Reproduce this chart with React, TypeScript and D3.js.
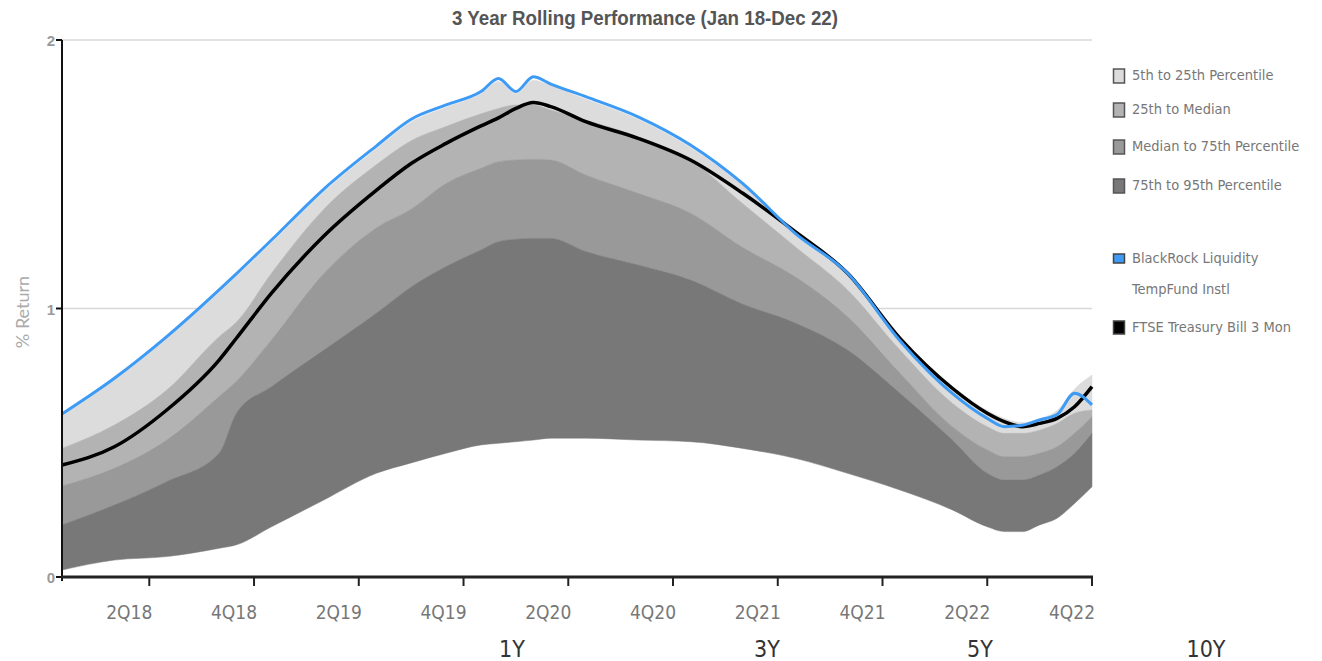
import React from "react";
import * as d3 from "d3";

// ---------- DATA ----------
const sampleMonths = [
  "2018-01", "2018-04", "2018-07", "2018-10", "2018-11", "2019-01", "2019-04", "2019-07",
  "2019-09", "2019-11", "2020-01", "2020-02", "2020-03", "2020-04", "2020-05", "2020-07",
  "2020-10", "2021-01", "2021-04", "2021-07", "2021-10", "2022-01", "2022-04", "2022-06",
  "2022-07", "2022-08", "2022-09", "2022-10", "2022-11", "2022-12",
];
const p5 = [0.6, 0.735, 0.89, 1.06, 1.12, 1.245, 1.435, 1.595, 1.695, 1.75, 1.8, 1.845, 1.8, 1.85, 1.83, 1.78, 1.705, 1.6, 1.46, 1.29, 1.135, 0.895, 0.71, 0.62, 0.59, 0.575, 0.59, 0.62, 0.7, 0.752];
const p25 = [0.479, 0.566, 0.696, 0.895, 0.95, 1.131, 1.37, 1.535, 1.625, 1.678, 1.725, 1.745, 1.758, 1.758, 1.739, 1.702, 1.64, 1.553, 1.39, 1.23, 1.069, 0.845, 0.647, 0.56, 0.535, 0.535, 0.547, 0.572, 0.61, 0.622];
const median = [0.339, 0.405, 0.51, 0.672, 0.73, 0.883, 1.13, 1.3, 1.37, 1.466, 1.522, 1.547, 1.553, 1.556, 1.553, 1.497, 1.429, 1.355, 1.227, 1.118, 0.969, 0.759, 0.56, 0.473, 0.448, 0.448, 0.461, 0.485, 0.535, 0.597];
const p75 = [0.194, 0.268, 0.355, 0.461, 0.611, 0.709, 0.845, 0.982, 1.08, 1.156, 1.218, 1.249, 1.258, 1.261, 1.261, 1.212, 1.162, 1.106, 1.016, 0.946, 0.845, 0.684, 0.51, 0.386, 0.361, 0.361, 0.38, 0.411, 0.461, 0.535];
const p95 = [0.026, 0.063, 0.076, 0.107, 0.12, 0.187, 0.287, 0.386, 0.425, 0.461, 0.492, 0.498, 0.504, 0.51, 0.517, 0.517, 0.51, 0.504, 0.479, 0.442, 0.386, 0.324, 0.25, 0.187, 0.169, 0.169, 0.194, 0.219, 0.274, 0.336];
const fund = [0.607, 0.74, 0.895, 1.069, 1.13, 1.255, 1.445, 1.605, 1.705, 1.758, 1.808, 1.857, 1.808, 1.863, 1.836, 1.789, 1.714, 1.609, 1.465, 1.28, 1.131, 0.88, 0.684, 0.591, 0.56, 0.565, 0.585, 0.605, 0.684, 0.641];
const bench = [0.417, 0.485, 0.622, 0.808, 0.89, 1.057, 1.27, 1.44, 1.54, 1.615, 1.68, 1.71, 1.745, 1.767, 1.752, 1.696, 1.634, 1.553, 1.429, 1.286, 1.131, 0.889, 0.703, 0.61, 0.578, 0.56, 0.572, 0.591, 0.634, 0.709];

const tickMonths = ["2018-06", "2018-12", "2019-06", "2019-12", "2020-06", "2020-12", "2021-06", "2021-12", "2022-06", "2022-12"];
const tickLabels = ["2Q18", "4Q18", "2Q19", "4Q19", "2Q20", "4Q20", "2Q21", "4Q21", "2Q22", "4Q22"];
const yTicks = [0, 1, 2];

const bandLabels = ["5th to 25th Percentile", "25th to Median", "Median to 75th Percentile", "75th to 95th Percentile"];
const fundLabel = ["BlackRock Liquidity", "TempFund Instl"];
const benchLabel = "FTSE Treasury Bill 3 Mon";
const periodLabels = ["1Y", "3Y", "5Y", "10Y"];
const title = "3 Year Rolling Performance (Jan 18-Dec 22)";

// ---------- STYLE / LAYOUT ----------
const W = 1322, H = 661;
const left = 62, right = 1092, top = 40, bottom = 577;
const bandColors = ["#dcdcdc", "#b3b3b3", "#999999", "#787878"];
const fundColor = "#3d9bf5";
const periodX = [512, 767, 980, 1206];
const legendY = [76, 110, 147, 186];
const condensed = "'Liberation Sans Narrow', 'DejaVu Sans Condensed', 'Roboto Condensed', Roboto, sans-serif";
const arial = "'Liberation Sans', Arial, sans-serif";

const monthIndex = (s: string) => {
  const [y, m] = s.split("-").map(Number);
  return (y - 2018) * 12 + (m - 1);
};

export default function App() {
  const x = d3.scaleLinear().domain([0, 59]).range([left, right]);
  const y = d3.scaleLinear().domain([0, 2]).range([bottom, top]);
  const xs = sampleMonths.map(monthIndex);
  const idx = xs.map((_, i) => i);

  const bounds = [p5, p25, median, p75, p95];
  const area = (hi: number[], lo: number[]) =>
    d3
      .area<number>()
      .x((i) => x(xs[i]))
      .y0((i) => y(lo[i]))
      .y1((i) => y(hi[i]))
      .curve(d3.curveMonotoneX)(idx) || "";
  const line = (vals: number[]) =>
    d3
      .line<number>()
      .x((i) => x(xs[i]))
      .y((i) => y(vals[i]))
      .curve(d3.curveMonotoneX)(idx) || "";

  return (
    <svg width={W} height={H} style={{ position: "absolute", left: 0, top: 0, background: "#fff" }}>
      {/* title */}
      <text x={645} y={25} textAnchor="middle" fontFamily={arial} fontWeight="bold" fontSize={20} fill="#555" textLength={386} lengthAdjust="spacingAndGlyphs">
        {title}
      </text>

      {/* grid */}
      {yTicks.filter((t) => t > 0).map((t) => (
        <line key={t} x1={left} x2={right} y1={y(t)} y2={y(t)} stroke="#d8d8d8" strokeWidth={1.5} />
      ))}

      {/* bands */}
      {bandColors.map((c, k) => (
        <path key={k} d={area(bounds[k], bounds[k + 1])} fill={c} stroke={c} strokeWidth={0.5} />
      ))}

      {/* lines */}
      <path d={line(bench)} fill="none" stroke="#000" strokeWidth={3.5} />
      <path d={line(fund)} fill="none" stroke={fundColor} strokeWidth={3} />

      {/* y axis */}
      <line x1={left} x2={left} y1={top} y2={bottom + 4} stroke="#111" strokeWidth={2} />
      {yTicks.map((t) => (
        <g key={t}>
          <line x1={left - 6} x2={left} y1={y(t)} y2={y(t)} stroke="#111" strokeWidth={2} />
          <text x={left - 7} y={y(t) + 6} textAnchor="end" fontFamily={arial} fontWeight="bold" fontSize={15} fill="#9a9a9a">
            {t}
          </text>
        </g>
      ))}
      <text transform={`translate(29,312) rotate(-90)`} textAnchor="middle" fontFamily="Lato, 'Open Sans', sans-serif" fontSize={18} fill="#aaa">
        % Return
      </text>

      {/* x axis */}
      <line x1={left - 1} x2={right + 1} y1={bottom} y2={bottom} stroke="#222" strokeWidth={3} />
      {tickMonths.map((m, i) => (
        <g key={m}>
          <line x1={x(monthIndex(m))} x2={x(monthIndex(m))} y1={bottom} y2={bottom + 9} stroke="#222" strokeWidth={2} />
          <text x={x(monthIndex(m)) - 20} y={619} textAnchor="middle" fontFamily={condensed} fontSize={19} fill="#777">
            {tickLabels[i]}
          </text>
        </g>
      ))}

      {/* period labels */}
      {periodLabels.map((p, i) => (
        <text key={p} x={periodX[i]} y={657} textAnchor="middle" fontFamily={condensed} fontSize={23} fill="#333">
          {p}
        </text>
      ))}

      {/* legend */}
      {bandLabels.map((l, i) => (
        <g key={l}>
          <rect x={1113.5} y={legendY[i] - 7} width={11} height={14} fill={bandColors[i]} stroke="#555" strokeWidth={1.5} />
          <text x={1132} y={legendY[i] + 4} fontFamily={condensed} fontSize={14.5} fill="#777">
            {l}
          </text>
        </g>
      ))}
      <rect x={1113.5} y={254} width={11} height={9} fill={fundColor} stroke="#444" strokeWidth={1.5} />
      {fundLabel.map((l, i) => (
        <text key={l} x={1132} y={263 + i * 31} fontFamily={condensed} fontSize={14.5} fill="#777">
          {l}
        </text>
      ))}
      <rect x={1113.5} y={321} width={11} height={13} fill="#000" stroke="#444" strokeWidth={1.5} />
      <text x={1132} y={332} fontFamily={condensed} fontSize={14.5} fill="#777">
        {benchLabel}
      </text>
    </svg>
  );
}
